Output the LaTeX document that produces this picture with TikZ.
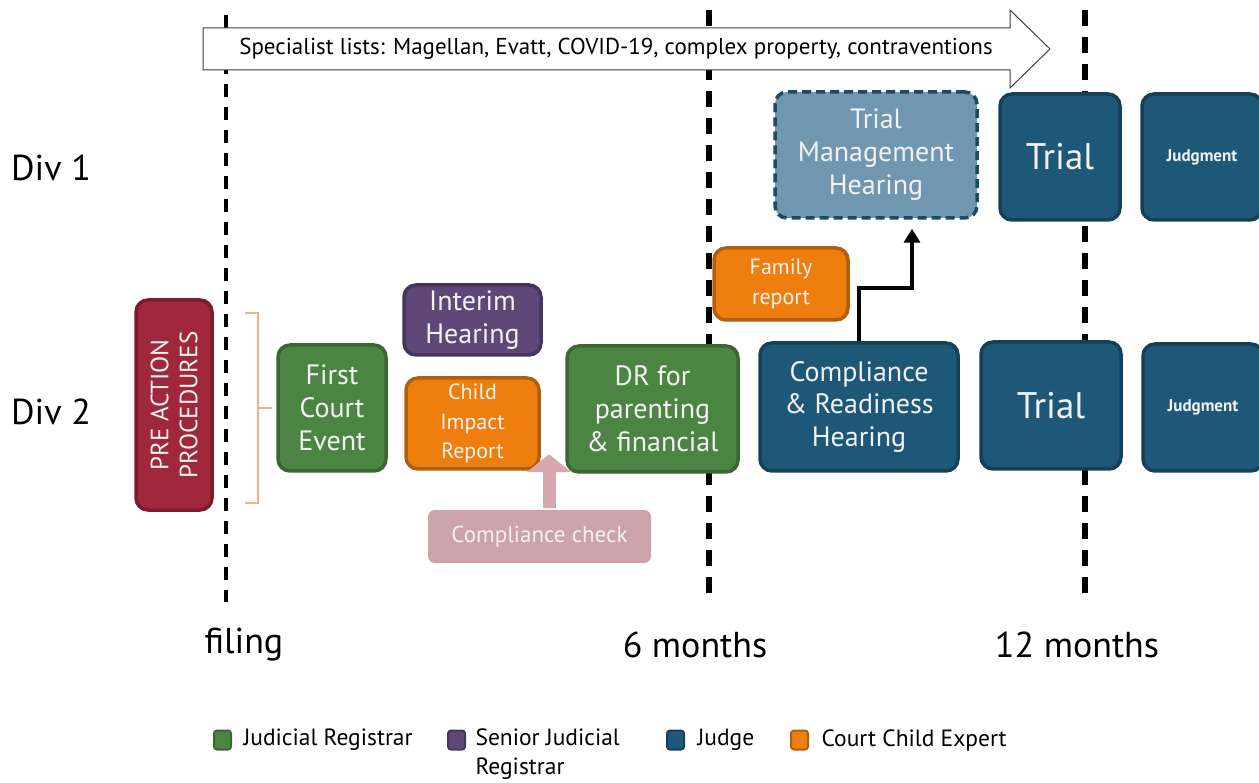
\documentclass[tikz,border=0pt]{standalone}
\usepackage{fontspec}
\setmainfont{PT Sans}
\usetikzlibrary{arrows.meta,calc}

\definecolor{regG}{HTML}{4C8543}\definecolor{regGd}{HTML}{3A6632}
\definecolor{senP}{HTML}{5F4878}\definecolor{senPd}{HTML}{46355E}
\definecolor{expO}{HTML}{EE7F0E}\definecolor{expOd}{HTML}{B35E0C}
\definecolor{judB}{HTML}{1E5878}\definecolor{judBd}{HTML}{163F58}
\definecolor{tmhB}{HTML}{7097AF}\definecolor{tmhBd}{HTML}{1C4A66}
\definecolor{preR}{HTML}{A0283A}\definecolor{preRd}{HTML}{7A1C2B}
\definecolor{chkP}{HTML}{CBA3A8}\definecolor{chkA}{HTML}{D8A8AE}
\definecolor{brc}{HTML}{F4B183}
\definecolor{boxtxt}{HTML}{F2F2F2}

\tikzset{
  box/.style={rounded corners=12pt, line width=3.5pt, align=center, inner sep=0pt,
    text=boxtxt, font=\fontsize{28}{33}\selectfont},
  green box/.style={box, fill=regG, draw=regGd},
  purple box/.style={box, fill=senP, draw=senPd},
  orange box/.style={box, fill=expO, draw=expOd, font=\fontsize{22}{29.5}\selectfont},
  blue box/.style={box, fill=judB, draw=judBd},
  trial box/.style={blue box, font=\fontsize{37}{44}\selectfont},
  judgment box/.style={blue box, font=\bfseries\fontsize{17}{20}\selectfont},
  timeline/.style={line width=6pt, dash pattern=on 16pt off 11pt},
  legend key/.style={rounded corners=3pt, line width=2pt, minimum width=17pt, minimum height=19pt, inner sep=0pt},
  legend text/.style={anchor=west, align=left, font=\fontsize{23.5}{29}\selectfont},
  big label/.style={font=\fontsize{36}{40}\selectfont},
}

\begin{document}
\begin{tikzpicture}[x=1pt,y=-1pt]
\useasboundingbox (0,0) rectangle (1259,783);

% time markers
\draw[timeline, line width=4pt, dash pattern=on 13pt off 10pt] (226,15) -- (226,602);
\draw[timeline] (709,10) -- (709,594);
\draw[timeline] (1085,10) -- (1085,594);

% specialist lists block arrow
\draw[fill=white, draw=black!75, line width=1pt]
  (203,28) -- (1010,28) -- (1010,10) -- (1050,49) -- (1010,88) -- (1010,70) -- (203,70) -- cycle;
\node[font=\fontsize{23}{26}\selectfont] (spec) at (616,49)
  {Specialist lists: Magellan, Evatt, COVID-19, complex property, contraventions};

% row labels
\node[big label] (div1) at (51,168) {Div 1};
\node[big label] (div2) at (51,412) {Div 2};

% pre action procedures
\node[box, fill=preR, draw=preRd, minimum width=76pt, minimum height=210pt] (pre) at (174,405) {};
\node[rotate=90, text=boxtxt, align=center, font=\fontsize{25}{29}\selectfont] (pretxt) at (pre.center)
  {PRE ACTION\\PROCEDURES};

% brace
\draw[brc, line width=1.2pt] (245,313) -- (258,313) -- (258,408) -- (272,408)
  (258,408) -- (258,503) -- (245,503);

% Div 2 stages
\node[green box, minimum width=108pt, minimum height=126pt] (fce) at (332,408) {First\\Court\\Event};
\node[purple box, minimum width=137pt, minimum height=70pt] (ih) at (472.5,320) {Interim\\Hearing};
\node[orange box, minimum width=133pt, minimum height=91pt] (cir) at (472.5,423.5) {Child\\Impact\\Report};
\node[box, fill=chkP, draw=none, minimum width=223pt, minimum height=53pt,
  font=\fontsize{23}{26}\selectfont, rounded corners=7pt] (chk) at (539.5,536.5) {Compliance check};
\node[green box, minimum width=171pt, minimum height=126pt] (dr) at (652.5,409) {DR for\\parenting\\\& financial};
\node[orange box, minimum width=134pt, minimum height=72pt] (fam) at (781,284) {Family\\report};
\node[blue box, minimum width=198pt, minimum height=128pt] (crh) at (859,407) {Compliance\\\& Readiness\\Hearing};
\node[trial box, minimum width=140pt, minimum height=127pt] (trial2) at (1051,405.5) {Trial};
\node[judgment box, minimum width=120pt, minimum height=127pt] (jud2) at (1203,407.5) {Judgment};

% Div 1 stages
\node[box, fill=tmhB, draw=tmhBd, dash pattern=on 9pt off 5pt, minimum width=202pt, minimum height=126pt] (tmh) at (876,155) {Trial\\Management\\Hearing};
\node[trial box, minimum width=120pt, minimum height=126pt] (trial1) at (1060,157) {Trial};
\node[judgment box, minimum width=120pt, minimum height=126pt] (jud1) at (1202,157) {Judgment};

% connectors
\draw[chkA, line width=13pt, -{Triangle[length=18pt, width=44pt]}] ($(chk.north)+(9.5,0)$) -- ++(0,-54);
\draw[line width=4.5pt, -{Triangle[length=14pt, width=16pt]}]
  (crh.north) -- ++(0,-53) -| ($(tmh.south)+(36,9)$);

% time labels
\node[big label] (t0) at (244,645) {filing};
\node[big label] (t6) at (695,645) {6 months};
\node[big label] (t12) at (1077,645) {12 months};

% legend
\node[legend key, fill=regG, draw=regGd] (k1) at (222.5,740) {};
\node[legend text] (l1) at (240,740) {Judicial Registrar};
\node[legend key, fill=senP, draw=senPd] (k2) at (456.5,740) {};
\node[legend text, anchor=north west] (l2) at (472,725) {Senior Judicial\\Registrar};
\node[legend key, fill=judB, draw=judBd] (k3) at (675.5,740) {};
\node[legend text] (l3) at (694,740) {Judge};
\node[legend key, fill=expO, draw=expOd] (k4) at (799.5,740) {};
\node[legend text] (l4) at (818,740) {Court Child Expert};
\end{tikzpicture}
\end{document}
